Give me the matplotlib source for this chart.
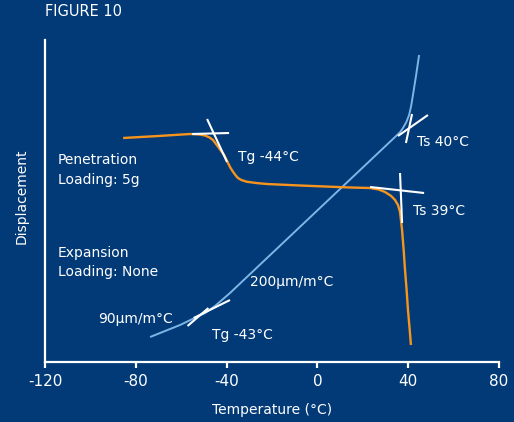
import matplotlib
matplotlib.use('Agg')
import matplotlib.pyplot as plt

# colours
bg = '#023a78'
orange = '#f7941d'
lblue = '#7cb6e6'
white = 'white'

plt.rcParams['font.family'] = ['DejaVu Sans Condensed', 'DejaVu Sans']

# penetration curve (orange), temperature in C, displacement in arbitrary units
pen_t = [-85.6, -70.0, -56.1, -52.0, -49.5, -47.5, -46.0, -44.0, -41.1, -38.5,
         -37.4, -36.3, -35.5, -34.8, -33.5, -31.2, -27.0, -22.3, -7.7, 14.4,
         23.2, 27.0, 29.8, 32.5, 34.2, 35.5, 36.4, 37.3, 38.0, 38.6,
         39.3, 39.9, 40.6, 41.2]
pen_d = [224, 226, 228, 227.5, 226.5, 224.5, 222, 216, 207, 195,
         191, 187.5, 185.2, 183.7, 182, 180.3, 179, 178, 176.5, 174.5,
         174, 172.5, 170, 166, 162, 157, 150, 132, 112, 92,
         72, 52, 34, 17]

# expansion curve (light blue)
exp_t = [-73.7, -60.5, -49.5, -45.1, -38.5, 34.2,
         36.5, 37.7, 39.2, 40.4, 41.3, 42.1, 43.5, 44.8]
exp_d = [25, 37, 49, 56, 69, 225,
         230, 234, 240, 247, 256, 267, 287, 307]

# tangent construction lines (white): (t1, d1, t2, d2)
tangents = [
    (-55.2, 228, -38.9, 229),   # Tg -44 flat
    (-48.6, 243, -39.8, 200),   # Tg -44 steep
    (23.2, 175, 47.0, 169),     # Ts 39 flat
    (36.4, 189, 37.3, 139),     # Ts 39 steep
    (35.5, 226, 48.7, 247),     # Ts 40 along expansion
    (41.7, 248, 39.0, 219),     # Ts 40 steep
    (-57.2, 36, -48.0, 54),     # Tg -43 steep
    (-54.5, 44, -38.5, 62),     # Tg -43 shallow
]

annots = [
    ('Tg -44°C', -35.0, 205),
    ('Ts 40°C', 43.9, 220),
    ('Ts 39°C', 42.1, 151),
    ('200μm/m°C', -29.7, 80),
    ('90μm/m°C', -96.7, 43),
    ('Tg -43°C', -46.4, 27),
    ('Penetration', -114.3, 202),
    ('Loading: 5g', -114.3, 182),
    ('Expansion', -114.3, 109),
    ('Loading: None', -114.3, 90),
]

xticks = [-120, -80, -40, 0, 40, 80]

fig = plt.figure(figsize=(5.14, 4.22), dpi=100, facecolor=bg)
ax = fig.add_axes([45 / 514, 60 / 422, 454 / 514, 322 / 422])
ax.set_facecolor(bg)

ax.plot(exp_t, exp_d, color=lblue, lw=1.4, solid_capstyle='butt')
ax.plot(pen_t, pen_d, color=orange, lw=1.7, solid_capstyle='butt')
for t1, d1, t2, d2 in tangents:
    ax.plot([t1, t2], [d1, d2], color=white, lw=1.5, solid_capstyle='butt')

for s, t, d in annots:
    ax.text(t, d, s, color=white, fontsize=10, va='center', ha='left')

ax.set_xlim(-120, 80)
ax.set_ylim(0, 322)
ax.set_xticks(xticks)
ax.set_xticklabels([str(v) for v in xticks])
ax.set_yticks([])
for side in ['top', 'right']:
    ax.spines[side].set_visible(False)
for side in ['left', 'bottom']:
    ax.spines[side].set_color(white)
    ax.spines[side].set_linewidth(1.6)
ax.tick_params(axis='x', colors=white, length=4, width=1.6, pad=5, labelsize=11)

fig.text(45 / 514, 1 - 12 / 422, 'FIGURE 10', color=white, fontsize=10.5,
         va='center', ha='left')
fig.text(22 / 514, 1 - 196 / 422, 'Displacement', color=white, fontsize=10,
         rotation=90, va='center', ha='center')
fig.text(272 / 514, 1 - 410 / 422, 'Temperature (°C)', color=white,
         fontsize=10, va='center', ha='center')

fig.savefig('out.png', dpi=100, facecolor=bg)
